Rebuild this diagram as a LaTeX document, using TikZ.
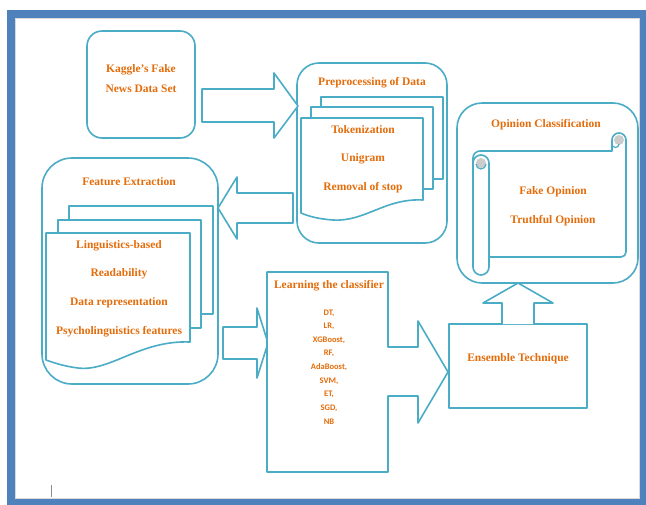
\documentclass[tikz,border=0pt]{standalone}
\usepackage{fontspec}
\setmainfont{Liberation Serif}
\newfontfamily\listfont{Carlito}
\definecolor{frameblue}{HTML}{4F81BD}
\definecolor{teal}{HTML}{4BACC6}
\definecolor{txtor}{HTML}{E46C0A}
\begin{document}
\begin{tikzpicture}[x=1pt,y=-1pt,
  shp/.style={draw=teal,line width=1.6pt,fill=white,line join=round},
  lbl/.style={text=txtor,font=\fontsize{11.5}{13}\selectfont\bfseries,inner sep=0pt},
  lst/.style={text=txtor,font=\listfont\fontsize{8.5}{9}\selectfont\bfseries,inner sep=0pt}]
\useasboundingbox (0,0) rectangle (646,504);
\fill[white] (0,0) rectangle (646,504);
% frame
\draw[frameblue,line width=8pt] (11,14) rectangle (644,503);
\draw[black!15,line width=0.6pt] (15.5,18.5) rectangle (639.5,498.5);

% Kaggle box
\draw[shp,rounded corners=15pt] (87,31) rectangle (195,138);
\node[lbl] (kag1) at (141,70) {Kaggle's Fake};
\node[lbl] (kag2) at (141,89) {News Data Set};

% Preprocessing box
\draw[shp,rounded corners=22pt] (297,63) rectangle (447,243);
\node[lbl] (pre) at (372,83) {Preprocessing of Data};
\draw[shp] (321,97) rectangle (443,179);
\draw[shp] (311,107) rectangle (433,189);
\draw[shp] (301,118) -- (423,118) -- (423,200)
  .. controls (385,198) and (365,222) .. (333,220)
  .. controls (318,219) and (308,216) .. (301,213) -- cycle;
\node[lbl] (tok) at (363,130) {Tokenization};
\node[lbl] (uni) at (363,159) {Unigram};
\node[lbl] (rem) at (363,188) {Removal of stop};

% arrow Kaggle -> Preprocessing
\draw[shp] (202,89) -- (274,89) -- (274,73) -- (298,106) -- (274,138) -- (274,122) -- (202,122) -- cycle;

% Feature extraction box
\draw[shp,rounded corners=30pt] (42,158) rectangle (218,384);
\node[lbl] (fe) at (129,182) {Feature Extraction};
\draw[shp] (69,206) rectangle (213,314);
\draw[shp] (58,220) rectangle (201,328);
\draw[shp] (46,233) -- (190,233) -- (190,342)
  .. controls (140,340) and (110,372) .. (78,368)
  .. controls (62,366) and (52,362) .. (46,360) -- cycle;
\node[lbl] (f1) at (119,246) {Linguistics-based};
\node[lbl] (f2) at (119,274) {Readability};
\node[lbl] (f3) at (119,303) {Data representation};
\node[lbl] (f4) at (119,332) {Psycholinguistics features};

% arrow Preprocessing -> Feature
\draw[shp] (293,193) -- (237,193) -- (237,177) -- (218,208) -- (237,239) -- (237,223) -- (293,223) -- cycle;

% arrow Feature -> Learning
\draw[shp] (223,327) -- (257,327) -- (257,308) -- (268,343) -- (257,378) -- (257,359) -- (223,359) -- cycle;

% Learning the classifier (callout)
\draw[shp] (267,272) -- (388,272) -- (388,347) -- (418,347) -- (418,321) -- (448,372)
  -- (418,423) -- (418,396) -- (388,396) -- (388,472) -- (267,472) -- cycle;
\node[lbl] (lc) at (329,286) {Learning the classifier};
\node[lst] (m1) at (329,313.0) {DT,};
\node[lst] (m2) at (329,326.6) {LR,};
\node[lst] (m3) at (329,340.2) {XGBoost,};
\node[lst] (m4) at (329,353.8) {RF,};
\node[lst] (m5) at (329,367.4) {AdaBoost,};
\node[lst] (m6) at (329,381.0) {SVM,};
\node[lst] (m7) at (329,394.6) {ET,};
\node[lst] (m8) at (329,408.2) {SGD,};
\node[lst] (m9) at (329,421.8) {NB};

% Ensemble
\draw[shp] (449,324) rectangle (587,408);
\node[lbl] (ens) at (518,359) {Ensemble Technique};
\draw[shp] (502,324) -- (502,303) -- (483,303) -- (518,283) -- (553,303) -- (534,303) -- (534,324);

% Opinion Classification
\draw[shp,rounded corners=25pt] (457,103) rectangle (638,283);
\node[lbl] (oc) at (546,125) {Opinion Classification};
% scroll body
\draw[shp] (473,165) -- (473,158) arc[start angle=180,end angle=270,radius=7] -- (612,151)
  -- (612,140) arc[start angle=180,end angle=360,radius=7] -- (626,252)
  arc[start angle=0,end angle=90,radius=5] -- (489,257);
\fill[black!20] (619,140) circle (5);
\draw[teal,line width=1.2pt] (612,151) -- (612,144) arc[start angle=180,end angle=0,radius=3.5];
% left roll
\draw[shp] (473,163) arc[start angle=180,end angle=360,radius=8] -- (489,267)
  arc[start angle=0,end angle=180,radius=8] -- cycle;
\fill[black!20] (481,163) circle (5);
\draw[teal,line width=1.2pt] (476,164) arc[start angle=180,end angle=0,radius=5];
\node[lbl] (fo) at (553,192) {Fake Opinion};
\node[lbl] (to) at (553,221) {Truthful Opinion};

% cursor mark
\draw[black!45,line width=0.9pt] (51,485) -- (51,497);
\end{tikzpicture}
\end{document}
